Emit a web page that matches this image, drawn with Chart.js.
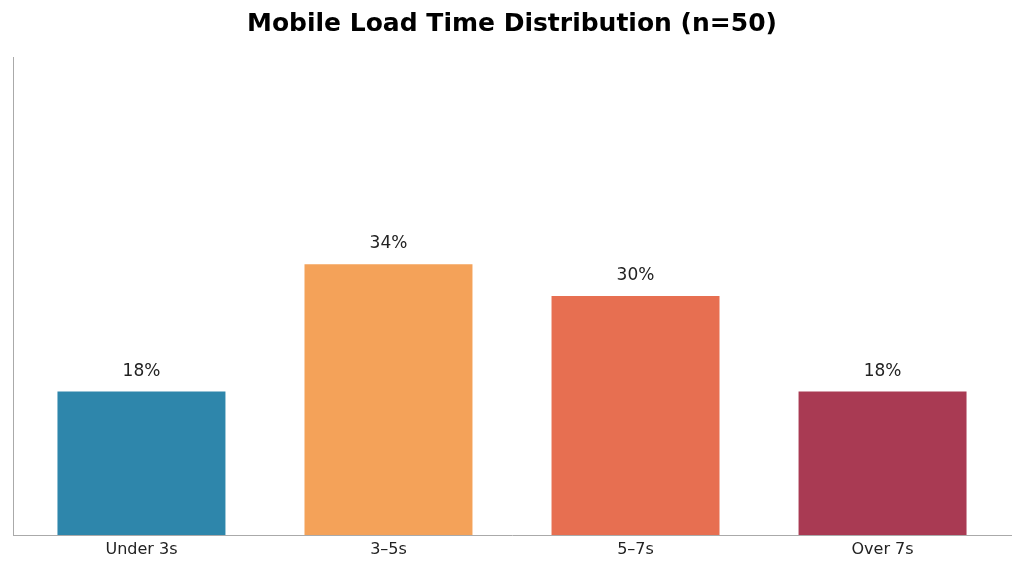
<!DOCTYPE html>
<html>
<head>
<meta charset="utf-8">
<script src="https://cdn.jsdelivr.net/npm/chart.js@4/dist/chart.umd.min.js"></script>
<style>
  html, body { margin: 0; padding: 0; background: #fff; }
  canvas { display: block; }
</style>
</head>
<body>
<canvas id="loadChart" width="1024" height="570"></canvas>
<script>
// Данные графика
const categories = ['Under 3s', '3–5s', '5–7s', 'Over 7s'];
const shares = [18, 34, 30, 18];
const barColors = ['#2E86AB', '#F4A259', '#E76F51', '#A93A53'];

// Подписи значений над столбцами
const valueLabels = {
    id: 'valueLabels',
    afterDatasetsDraw(chart) {
        const ctx = chart.ctx;
        const meta = chart.getDatasetMeta(0);
        ctx.save();
        ctx.font = '17px "DejaVu Sans"';
        ctx.fillStyle = '#222222';
        ctx.textAlign = 'center';
        ctx.textBaseline = 'alphabetic';
        meta.data.forEach((bar, i) => {
            ctx.fillText(shares[i] + '%', bar.x, bar.y - 16);
        });
        ctx.restore();
    }
};

let ctx1 = document.getElementById('loadChart').getContext('2d');
let loadChart = new Chart(ctx1, {
    type: 'bar',
    data: {
        datasets: [{
            data: shares.map((v, i) => ({ x: i, y: v })),
            backgroundColor: barColors,
            borderWidth: 0,
            categoryPercentage: 1,
            barPercentage: 0.68
        }]
    },
    options: {
        responsive: false,
        animation: false,
        layout: { padding: { left: 13, right: 13, top: 0, bottom: 0 } },
        plugins: {
            legend: { display: false },
            tooltip: { enabled: false },
            title: {
                display: true,
                text: 'Mobile Load Time Distribution (n=50)',
                color: '#000000',
                font: { family: 'DejaVu Sans', size: 25, weight: 'bold' },
                padding: { top: 9, bottom: 18 }
            }
        },
        scales: {
            x: {
                type: 'linear',
                min: -0.52,
                max: 3.52,
                offset: false,
                grid: { display: false, offset: false },
                border: { display: true, color: '#aaaaaa', width: 1 },
                afterBuildTicks: (scale) => {
                    scale.ticks = categories.map((c, i) => ({ value: i }));
                },
                afterFit: (scale) => { scale.height = 35; },
                ticks: {
                    color: '#222222',
                    font: { family: 'DejaVu Sans', size: 16 },
                    padding: -3,
                    maxRotation: 0,
                    callback: (v) => categories[v] || ''
                }
            },
            y: {
                min: 0,
                max: 60,
                grid: { display: false },
                border: { display: true, color: '#aaaaaa', width: 1 },
                ticks: { display: false },
                afterFit: (scale) => { scale.width = 0; }
            }
        }
    },
    plugins: [valueLabels]
});
</script>
</body>
</html>
